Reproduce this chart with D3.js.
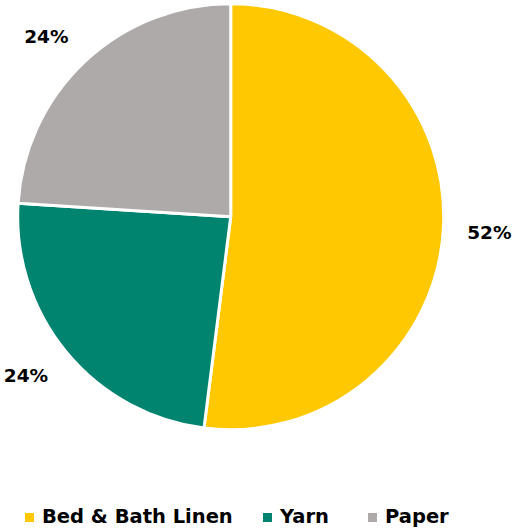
<!DOCTYPE html>
<html>
<head>
<meta charset="utf-8">
<script src="https://cdn.jsdelivr.net/npm/d3@7"></script>
<style>
  html, body { margin: 0; padding: 0; background: #fff; }
  svg { display: block; }
  text { font-family: "DejaVu Sans", sans-serif; font-weight: bold; fill: #000; }
</style>
</head>
<body>
<svg id="chart" width="514" height="531"></svg>
<script>
// Share of sales by product group
const categories = ["Bed & Bath Linen", "Yarn", "Paper"];
const shares = [52, 24, 24];
const colors = ["#FFC800", "#00846F", "#AEAAA9"];

const svg = d3.select("#chart");
const cx = 230.7, cy = 216.7, radius = 213, labelGap = 24;

const color = d3.scaleOrdinal().domain(categories).range(colors);

const pie = d3.pie().sort(null).value(d => d.value);
const arcs = pie(categories.map((c, i) => ({ name: c, value: shares[i] })));

const arc = d3.arc().innerRadius(0).outerRadius(radius);

const g = svg.append("g").attr("transform", `translate(${cx},${cy})`);

g.selectAll("path.slice")
  .data(arcs)
  .join("path")
  .attr("class", "slice")
  .attr("d", arc)
  .attr("fill", d => color(d.data.name))
  .attr("stroke", "#fff")
  .attr("stroke-width", 3)
  .attr("stroke-linejoin", "round");

// Outside-end labels: the label box sits just beyond the rim,
// pushed outward along the slice's mid-angle by its own half size.
const labels = g.selectAll("text.pct")
  .data(arcs)
  .join("text")
  .attr("class", "pct")
  .attr("text-anchor", "middle")
  .attr("dy", "0.36em")
  .attr("font-size", 18.5)
  .text(d => d.data.value + "%");

labels.each(function (d) {
  const box = this.getBBox();
  const mid = (d.startAngle + d.endAngle) / 2;
  const ux = Math.sin(mid), uy = -Math.cos(mid);
  const clamp = v => Math.max(-1, Math.min(1, v));
  const r = radius + labelGap;
  const x = ux * r + clamp(ux * 1.5) * box.width / 2;
  const y = uy * r + clamp(uy * 1.5) * 8;
  d3.select(this).attr("transform", `translate(${x},${y})`);
});

// Legend along the bottom
const legendX = [25, 263, 368];
const legend = svg.append("g").attr("transform", "translate(0,517.5)");
const items = legend.selectAll("g.item")
  .data(categories)
  .join("g")
  .attr("class", "item")
  .attr("transform", (d, i) => `translate(${legendX[i]},0)`);

items.append("rect")
  .attr("x", 0).attr("y", -4.5)
  .attr("width", 9).attr("height", 9)
  .attr("fill", d => color(d));

items.append("text")
  .attr("x", 17)
  .attr("y", 5.8)
  .attr("font-size", 19.5)
  .text(d => d);
</script>
</body>
</html>
